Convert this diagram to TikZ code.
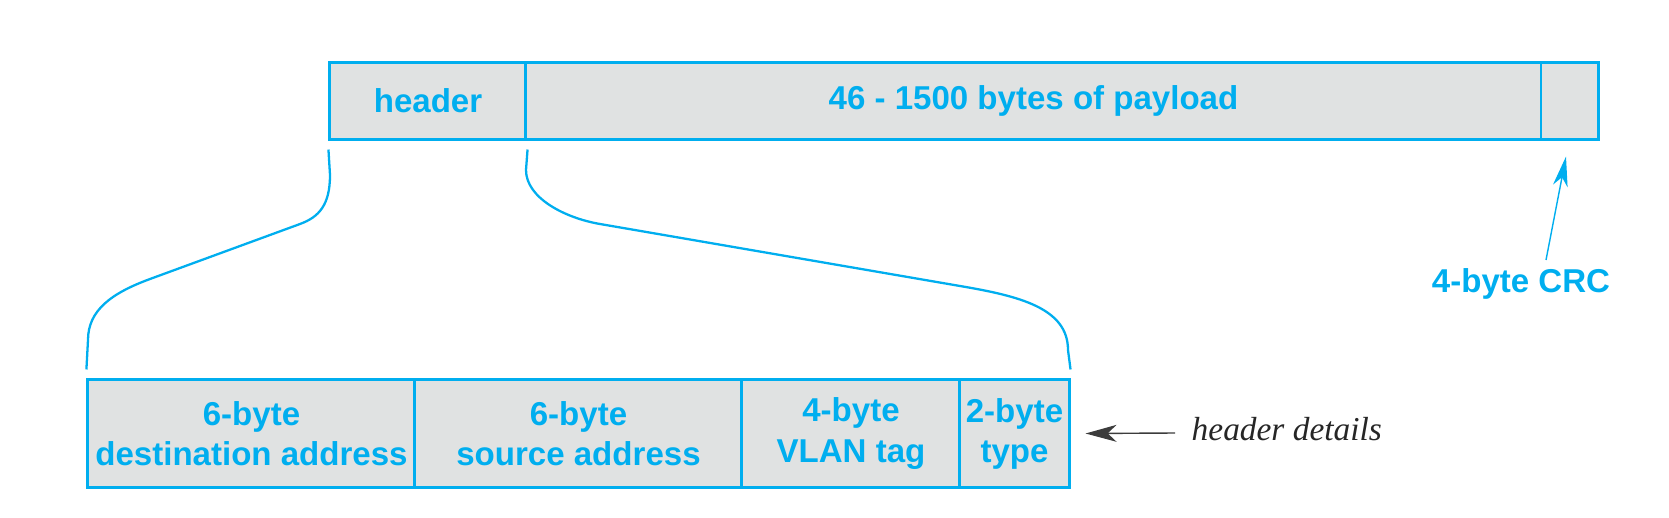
\documentclass[tikz,border=0pt]{standalone}
\usepackage{fontspec}
\newfontfamily\lsans{Liberation Sans}
\newfontfamily\lserif{Liberation Serif}
\usetikzlibrary{arrows.meta}
\definecolor{cy}{RGB}{0,174,239}
\definecolor{fieldgray}{RGB}{224,226,226}
\definecolor{arrgray}{RGB}{60,60,60}
\begin{document}
\begin{tikzpicture}[x=0.01cm,y=-0.01cm,
  field/.style={draw=cy,line width=0.85pt,fill=fieldgray,inner sep=0pt,
    text=cy,font=\lsans\bfseries\fontsize{9.4}{11.4}\selectfont,align=center},
  topfield/.style={field,minimum height=0.76cm},
  botfield/.style={field,minimum height=1.07cm},
  brace/.style={draw=cy,line width=0.65pt},
  lbl/.style={text=cy,font=\lsans\bfseries\fontsize{9.4}{11.4}\selectfont,inner sep=0pt}]
\useasboundingbox (0,0) rectangle (1669,518);
% top frame
\node[topfield,minimum width=1.96cm] (hdr) at (428,101) {header};
\node[topfield,minimum width=10.15cm] (pay) at (1033.5,101) {46 - 1500 bytes of payload};
\node[topfield,minimum width=0.57cm] (crc) at (1569.5,101) {};
% bottom header details
\node[botfield,minimum width=3.27cm] (dst) at (251.5,433.5) {6-byte\\destination address};
\node[botfield,minimum width=3.27cm] (src) at (578.5,433.5) {6-byte\\source address};
\node[botfield,minimum width=2.18cm] (vlan) at (851,433.5) {4-byte\\VLAN tag};
\node[botfield,minimum width=1.09cm] (type) at (1014.5,433.5) {2-byte\\type};
% braces
\draw[brace] ([yshift=-0.09cm]hdr.south west) -- (330,175)
  .. controls (330,205) and (319,217) .. (300,224) -- (150,279)
  .. controls (112,293) and (88,310) .. (88,340) -- ([yshift=0.09cm]dst.north west);
\draw[brace] ([yshift=-0.09cm]hdr.south east) -- (526,170)
  .. controls (526,198) and (565,218) .. (600,224) -- (960,286)
  .. controls (1019,296) and (1068,308) .. (1068,350) -- ([yshift=0.09cm]type.north east);
% CRC label
\node[lbl,anchor=base] (crclbl) at (1521,292) {4-byte CRC};
\coordinate (crctail) at (1546,260);
\draw[cy,line width=0.4pt,-{Stealth[length=8.5pt,width=4.2pt,inset=2.5pt]}] (crctail) -- ([xshift=-0.035cm,yshift=-0.16cm]crc.south);
% header details
\node[anchor=base west,inner sep=0pt,font=\lserif\itshape\fontsize{9.5}{11.4}\selectfont,text=black!85] (hd) at (1191,440) {header details};
\coordinate (hdtail) at (1175,433);
\draw[arrgray,line width=0.4pt,-{Stealth[length=8.8pt,width=4.8pt,inset=2.5pt]}] (hdtail) -- ([xshift=0.15cm]type.east);
\end{tikzpicture}
\end{document}
